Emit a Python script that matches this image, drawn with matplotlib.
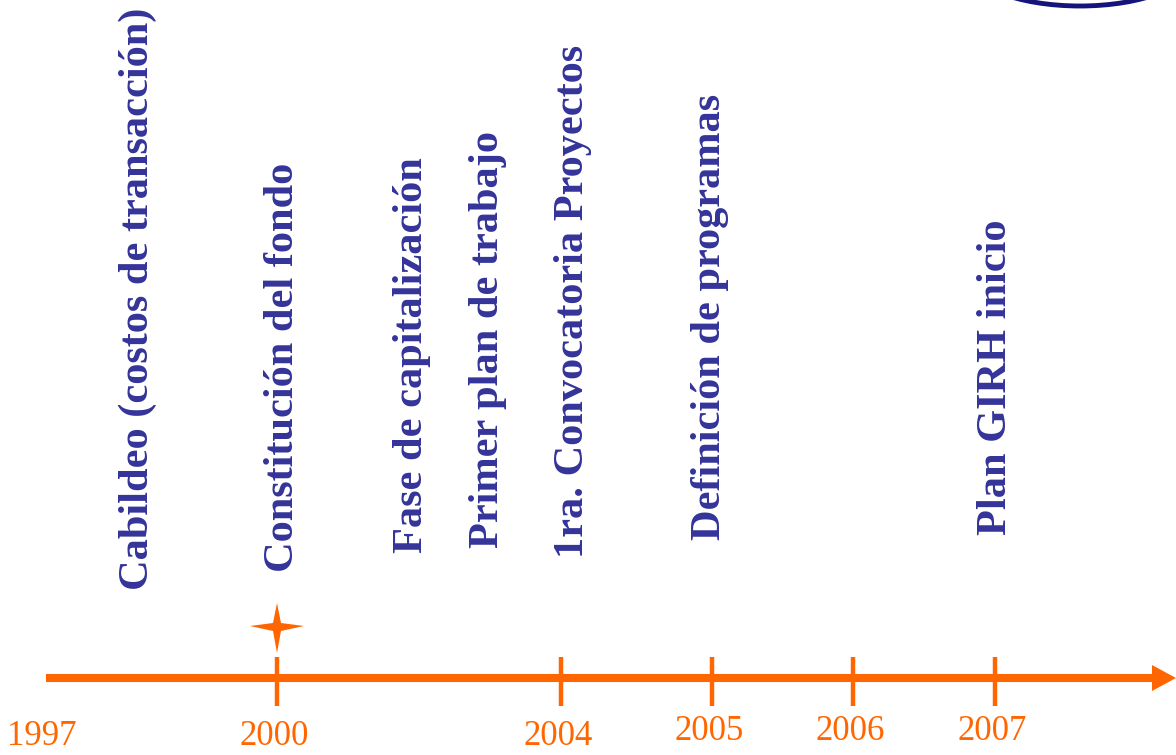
import matplotlib
matplotlib.use("Agg")
import matplotlib.pyplot as plt
from matplotlib.patches import Polygon, Ellipse

# ─── Datos ───────────────────────────────────────────────
years = ["1997", "2000", "2004", "2005", "2006", "2007"]
year_pos = [45, 277, 561, 712, 853, 995]          # posición en la línea de tiempo
has_tick = [False, True, True, True, True, True]

events = [
    "Cabildeo (costos de transacción)",
    "Constitución del fondo",
    "Fase de capitalización",
    "Primer plan de trabajo",
    "1ra. Convocatoria Proyectos",
    "Definición de programas",
    "Plan GIRH inicio",
]
event_pos = [138, 283, 412, 488, 573, 710, 996]
event_base = [590, 572, 553, 548, 558, 540, 535]

star_year = "2000"

ORANGE = "#FF6600"
BLUE = "#333399"
NAVY = "#14147a"

W, H = 1176, 755
fig = plt.figure(figsize=(W / 100, H / 100), dpi=100)
ax = fig.add_axes([0, 0, 1, 1])
ax.set_xlim(0, W)
ax.set_ylim(H, 0)
ax.axis("off")

# línea de tiempo con flecha
axis_y = 678
ax.plot([46, 1155], [axis_y, axis_y], color=ORANGE, lw=5.8, solid_capstyle="butt")
ax.add_patch(Polygon([[1152, axis_y - 13], [1176, axis_y], [1152, axis_y + 13]],
                     closed=True, color=ORANGE, lw=0))

# marcas y años
for yr, x, tk in zip(years, year_pos, has_tick):
    if tk:
        ax.plot([x, x], [657, 706], color=ORANGE, lw=3.2, solid_capstyle="butt")
    ax.text(x - 3, 745 if yr in ("1997", "2000", "2004") else 740, yr,
            ha="center", va="baseline", color=ORANGE,
            fontsize=25, family="Liberation Serif")

# estrella sobre el año de constitución
sx = year_pos[years.index(star_year)]
sy = 627
a, b, c = 27, 24, 4
ax.add_patch(Polygon([[sx, sy - b], [sx + c, sy - c], [sx + a, sy - 1],
                      [sx + c, sy + c], [sx, sy + b + 2], [sx - c, sy + c],
                      [sx - a, sy - 1], [sx - c, sy - c]],
                     closed=True, color=ORANGE, lw=0))

# eventos (texto vertical)
for label, x, yb in zip(events, event_pos, event_base):
    ax.text(x, yb, label, rotation=90, ha="center", va="bottom",
            color=BLUE, fontsize=30.5, fontweight="bold", family="Liberation Serif")

# fragmento del logo arriba a la derecha
ax.add_patch(Ellipse((1080, -40), 230, 92, fill=False, ec=NAVY, lw=3.5))

fig.savefig("out.png", dpi=100)
